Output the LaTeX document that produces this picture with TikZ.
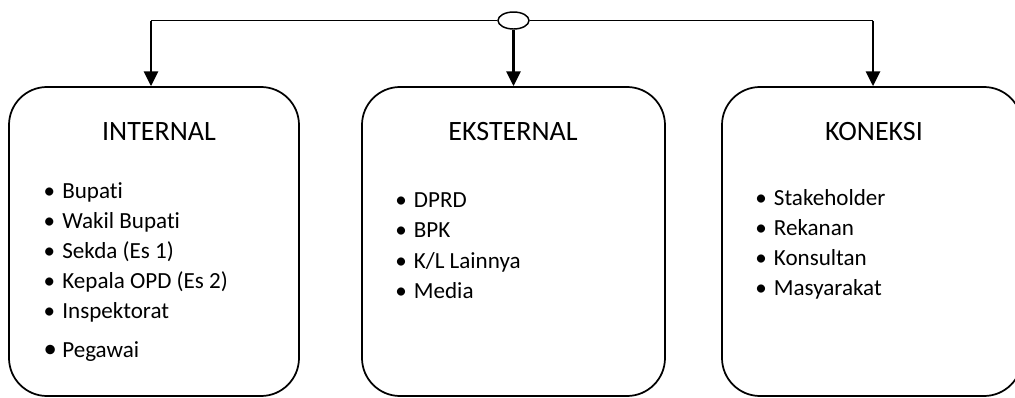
\documentclass[tikz,border=0pt]{standalone}
\usepackage{fontspec}
\setmainfont{Carlito}[Ligatures={NoCommon,NoRare,NoDiscretionary}]
\usetikzlibrary{arrows.meta,positioning,shapes.geometric}
\newcommand{\blt}[1]{\makebox[14pt][l]{\textbullet}#1}
\newcommand{\bigblt}[1]{\makebox[14pt][l]{\fontsize{20}{20}\selectfont\textbullet}#1}

\begin{document}
\begin{tikzpicture}[
  x=0.75pt, y=-0.75pt,
  group/.style={rectangle, draw, line width=1.3pt, rounded corners=28.5pt, minimum height=231.75pt, inner sep=0pt},
  title/.style={anchor=base, font=\fontsize{21}{24}\selectfont, inner sep=0pt},
  item/.style={anchor=base west, font=\fontsize{17.3}{20}\selectfont, inner sep=0pt},
  hub/.style={ellipse, draw, line width=1.1pt, minimum width=23.25pt, minimum height=12.75pt, inner sep=0pt},
  link/.style={line width=1.1pt},
  arr/.style={-{Triangle[length=11pt, width=10.5pt]}, line width=2pt}
]
\useasboundingbox (0,0) rectangle (1015,397);

% Three groups
\node[group, minimum width=217.5pt] (internal) at (154,241.5) {};
\node[group, minimum width=227.25pt] (eksternal) at (513.5,241.5) {};
\node[group, minimum width=225pt] (koneksi) at (872,241.5) {};

% Top: hub and distribution line
\node[hub] (hub) at (513.5,20.5) {};
\coordinate (cl) at (151,20.5);
\coordinate (cr) at (873,20.5);
\draw[link] (hub.west) -- (cl);
\draw[link] (hub.east) -- (cr);

\draw[arr] (cl) -- (cl |- internal.north);
\draw[arr] (hub.south) -- (eksternal.north);
\draw[arr] (cr) -- (cr |- koneksi.north);

% Titles
\node[title] (t-int) at (159,140) {INTERNAL};
\node[title] (t-eks) at (513,140) {EKSTERNAL};
\node[title] (t-kon) at (874,140) {KONEKSI};

% Internal list
\foreach \txt [count=\i] in {Bupati, Wakil Bupati, Sekda (Es 1), Kepala OPD (Es 2), Inspektorat}
  \node[item] (int-\i) at (43.4,{198+30*(\i-1)}) {\blt{\txt}};
\node[item] (int-6) at (43.4,357) {\bigblt{Pegawai}};

% Eksternal list
\foreach \txt [count=\i] in {DPRD, BPK, K/L Lainnya, Media}
  \node[item] (eks-\i) at (395,{207+30.5*(\i-1)}) {\blt{\txt}};

% Koneksi list
\foreach \txt [count=\i] in {Stakeholder, Rekanan, Konsultan, Masyarakat}
  \node[item] (kon-\i) at (755,{205+30*(\i-1)}) {\blt{\txt}};

\end{tikzpicture}
\end{document}
